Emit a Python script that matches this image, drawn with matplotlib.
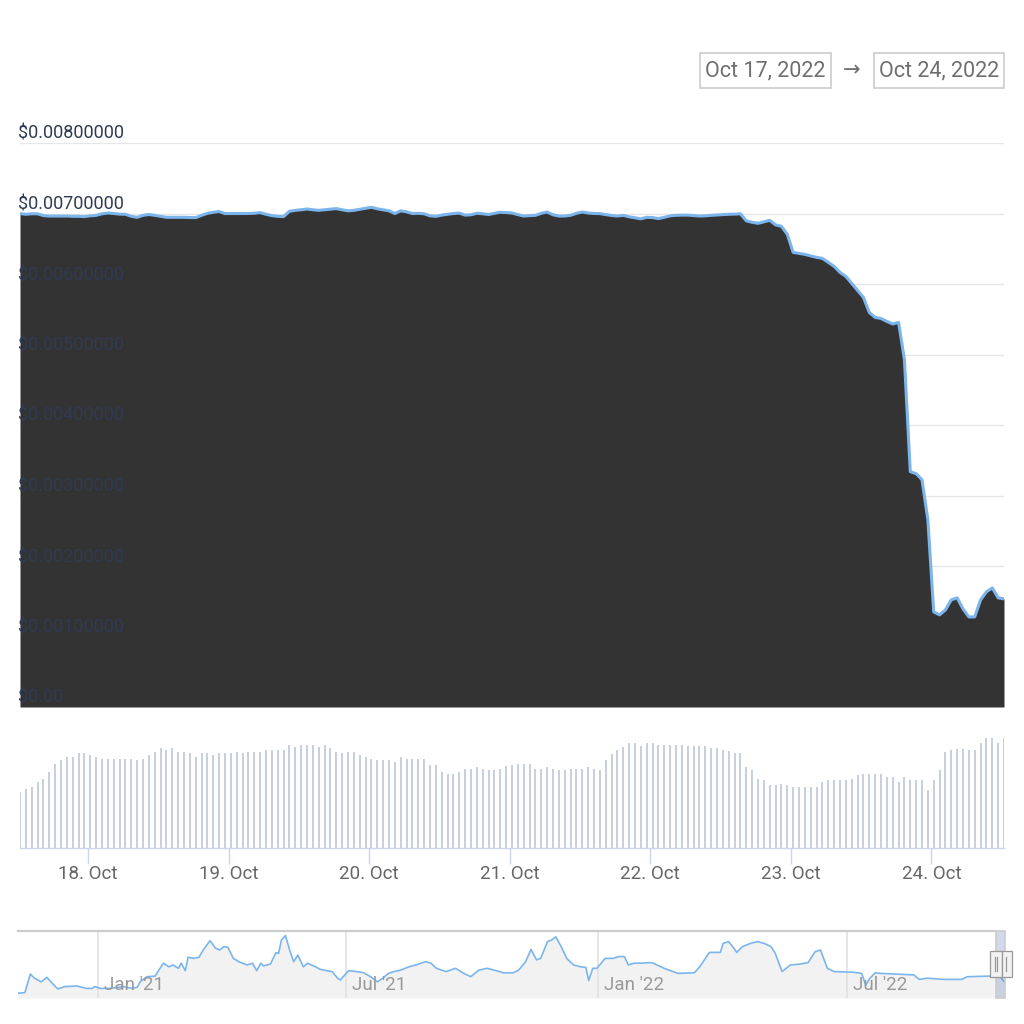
import numpy as np
import pandas as pd
import matplotlib
matplotlib.use('Agg')
import matplotlib.pyplot as plt
import matplotlib.dates as mdates
import matplotlib.transforms as mtrans
from matplotlib.patches import Rectangle

plt.rcParams['font.family'] = ['Roboto', 'DejaVu Sans']

#%% data
# hourly price, in thousandths of a dollar (Oct 17 12:24 -> Oct 24 12:24)
price_k = [6.999, 6.989, 6.996, 6.996, 6.970, 6.964, 6.964, 6.964, 6.964, 6.960,
           6.960, 6.956, 6.967, 6.974, 6.996, 7.007, 7.000, 6.991, 6.989, 6.960,
           6.946, 6.974, 6.986, 6.974, 6.960, 6.946, 6.946, 6.946, 6.946, 6.943,
           6.942, 6.974, 7.003, 7.017, 7.028, 6.999, 6.999, 6.999, 6.999, 7.000,
           7.003, 7.013, 6.989, 6.970, 6.960, 6.956, 7.031, 7.045, 7.053, 7.064,
           7.053, 7.045, 7.053, 7.060, 7.070, 7.053, 7.038, 7.045, 7.060, 7.074,
           7.088, 7.067, 7.053, 7.038, 6.999, 7.038, 7.024, 6.999, 7.003, 6.996,
           6.967, 6.960, 6.977, 6.989, 6.999, 7.006, 6.977, 6.982, 7.003, 6.996,
           6.986, 7.003, 7.017, 7.013, 7.007, 6.984, 6.964, 6.970, 6.974, 7.003,
           7.021, 6.982, 6.964, 6.964, 6.974, 7.003, 7.021, 7.007, 7.000, 6.999,
           6.984, 6.972, 6.964, 6.974, 6.953, 6.939, 6.925, 6.946, 6.942, 6.928,
           6.946, 6.967, 6.974, 6.977, 6.977, 6.970, 6.964, 6.967, 6.974, 6.979,
           6.984, 6.989, 6.991, 6.996, 6.896, 6.875, 6.861, 6.882, 6.903, 6.839,
           6.818, 6.705, 6.449, 6.435, 6.420, 6.399, 6.378, 6.364, 6.307, 6.250,
           6.165, 6.108, 6.009, 5.909, 5.810, 5.597, 5.526, 5.511, 5.469, 5.433,
           5.455, 4.929, 3.338, 3.310, 3.224, 2.656, 1.349, 1.307, 1.378, 1.520,
           1.548, 1.392, 1.278, 1.278, 1.520, 1.634, 1.690, 1.548, 1.534]

# hourly volume (relative bar heights)
volume = [167, 177, 182, 197, 207, 228, 253, 263, 273, 273, 285, 284, 279, 273, 268,
          268, 268, 268, 268, 268, 263, 268, 279, 288, 299, 294, 299, 289, 289, 284,
          274, 284, 284, 279, 284, 284, 284, 289, 284, 289, 289, 289, 294, 294, 294,
          294, 309, 304, 309, 309, 309, 304, 309, 299, 289, 284, 289, 289, 279, 274,
          268, 263, 263, 263, 258, 273, 268, 268, 268, 268, 248, 248, 228, 223, 223,
          228, 238, 238, 243, 238, 233, 233, 238, 245, 248, 253, 253, 253, 238, 238,
          243, 238, 233, 233, 238, 238, 238, 243, 238, 233, 263, 283, 293, 303, 315,
          315, 305, 315, 315, 310, 310, 310, 310, 310, 305, 305, 305, 305, 300, 300,
          295, 290, 285, 285, 243, 233, 208, 203, 188, 188, 193, 188, 183, 183, 183,
          183, 183, 198, 203, 203, 203, 203, 208, 218, 223, 223, 223, 223, 213, 213,
          198, 213, 203, 203, 203, 173, 203, 233, 288, 293, 298, 298, 293, 293, 315,
          330, 330, 315, 330]

start = pd.Timestamp('2022-10-17 12:24')
times = pd.date_range(start, periods=len(price_k), freq='h')
price = np.array(price_k) * 1e-3

yticks = [0, 0.001, 0.002, 0.003, 0.004, 0.005, 0.006, 0.007, 0.008]
ylabels = ['$0.00', '$0.00100000', '$0.00200000', '$0.00300000', '$0.00400000',
           '$0.00500000', '$0.00600000', '$0.00700000', '$0.00800000']

# navigator (full history), days since 2020-11-04
nav_days = [0, 5, 9, 12, 17, 21, 25, 29, 34, 43, 50, 54, 56, 60, 67, 77, 83, 87, 89, 94,
            100, 102, 106, 110, 113, 117, 119, 122, 124, 128, 132, 135, 140, 144, 147, 150,
            153, 157, 161, 167, 171, 174, 177, 179, 184, 188, 190, 192, 195, 198, 201, 204,
            208, 211, 217, 220, 225, 229, 233, 235, 237, 241, 247, 252, 257, 262, 266, 270,
            274, 279, 285, 290, 297, 301, 305, 312, 319, 325, 330, 336, 342, 347, 354, 361,
            365, 370, 374, 378, 381, 386, 389, 392, 396, 400, 405, 410, 414, 416, 419, 422,
            428, 434, 438, 442, 445, 449, 454, 462, 471, 481, 493, 497, 504, 512, 514, 518,
            521, 524, 528, 534, 539, 544, 549, 552, 557, 563, 570, 576, 581, 585, 590, 595,
            609, 615, 618, 621, 625, 629, 638, 653, 657, 663, 675, 688, 692, 709, 716, 719]
nav_vals = [1.6, 1.8, 8.0, 6.6, 5.4, 6.9, 4.9, 3.0, 3.8, 4.0, 3.2, 3.2, 3.8, 3.2, 3.2, 3.8, 3.2, 3.6, 5.4, 7.1,
            7.3, 8.8, 11.6, 10.4, 11.0, 9.9, 11.6, 9.1, 13.6, 13.2, 13.6, 16.0, 19.1, 16.6, 16.0, 17.1,
            16.9, 13.2, 12.1, 11.0, 11.6, 9.1, 11.6, 10.7, 11.3, 15.1, 14.9, 19.3, 20.8, 16.0, 12.1, 14.3,
            10.4, 11.6, 10.4, 9.6, 9.1, 8.8, 6.6, 6.0, 7.1, 9.1, 8.8, 8.4, 7.1, 5.4, 6.6, 8.2,
            8.8, 9.3, 10.4, 11.0, 12.1, 11.6, 9.9, 8.8, 9.9, 8.2, 7.1, 9.3, 9.9, 9.3, 8.4, 8.4,
            9.3, 12.1, 16.2, 12.7, 13.2, 18.8, 19.3, 20.4, 17.1, 13.2, 11.0, 10.4, 10.2, 5.8, 9.9, 9.9,
            13.2, 13.2, 13.8, 13.8, 11.0, 11.6, 11.6, 11.8, 9.9, 8.2, 8.4, 10.4, 15.2, 15.2, 18.2, 18.8,
            17.1, 15.2, 17.1, 18.2, 18.8, 18.2, 17.1, 14.9, 8.8, 11.0, 11.3, 11.8, 15.4, 16.0, 9.9, 8.8,
            8.6, 8.2, 4.3, 6.6, 8.4, 8.2, 8.0, 7.7, 6.2, 6.6, 6.2, 6.2, 7.1, 7.3, 7.0, 5.4]
nav_ticks = ['2021-01-01', '2021-07-01', '2022-01-01', '2022-07-01']
nav_labels = ["Jan '21", "Jul '21", "Jan '22", "Jul '22"]

#%% figure
W = H = 1024
fig = plt.figure(figsize=(10.24, 10.24), dpi=100)


def px_axes(x0, y0, x1, y1):
    return fig.add_axes([x0 / W, 1 - y1 / H, (x1 - x0) / W, (y1 - y0) / H])


# main price panel
ax = px_axes(20, 143, 1004, 707)
for v in yticks:
    ax.axhline(v, color='#e6e6e6', lw=1, zorder=1)
ax.fill_between(times, price, 0, color='#333333', lw=0, zorder=2)
ax.plot(times, price, color='#7cb5ec', lw=2.2, zorder=3, solid_joinstyle='round')
ax.set_xlim(times[0], times[-1])
ax.set_ylim(0, 0.008)
ax.axis('off')
ytrans = mtrans.offset_copy(ax.get_yaxis_transform(), fig=fig, y=4, units='dots')
for v, lab in zip(yticks, ylabels):
    ax.text(-0.002, v, lab, transform=ytrans, ha='left', va='baseline',
            fontsize=13, color='#2f3b52', zorder=4, clip_on=False)

# volume panel
vax = px_axes(20, 730, 1004, 848)
vax.bar(times, volume, width=2 / 140.6, color='#c8d0dd', align='center')
vax.set_xlim(times[0], times[-1])
vax.set_ylim(0, 354)
for s in ['top', 'right', 'left']:
    vax.spines[s].set_visible(False)
vax.spines['bottom'].set_color('#ccd6eb')
vax.spines['bottom'].set_linewidth(1)
vax.set_yticks([])
vax.xaxis.set_major_locator(mdates.DayLocator())
vax.xaxis.set_major_formatter(mdates.DateFormatter('%d. %b'))
vax.tick_params(axis='x', length=11.5, width=1, color='#ccd6eb',
                labelcolor='#666666', labelsize=13.5, pad=0.8)

# navigator
nax = px_axes(18, 931, 1005, 998)
nav_dates = pd.Timestamp('2020-11-04') + pd.to_timedelta(nav_days, unit='D')
nax.fill_between(nav_dates, nav_vals, 0, color='#f2f2f2', lw=0, zorder=1)
nax.plot(nav_dates, nav_vals, color='#7cb5ec', lw=1.2, zorder=3)
nax.set_xlim(pd.Timestamp('2020-11-04'), pd.Timestamp('2022-10-24 12:00'))
nax.set_ylim(0, 22.33)
nax.axis('off')
ntrans = mtrans.offset_copy(nax.get_xaxis_transform(), fig=fig, x=6, units='dots')
for d, lab in zip(nav_ticks, nav_labels):
    nax.axvline(pd.Timestamp(d), color='#e0e0e0', lw=1.2, zorder=2)
    nax.text(pd.Timestamp(d), 0.2, lab, transform=ntrans, ha='left', va='center',
             fontsize=13.5, color='#999999', zorder=4)

# navigator outline, selection and handles
fig.add_artist(plt.Line2D([18 / W, 996 / W], [1 - 931 / H, 1 - 931 / H],
                          color='#cccccc', lw=1.6))
fig.add_artist(Rectangle((996 / W, 1 - 998 / H), 9 / W, 67 / H, transform=fig.transFigure,
                         fc=(0.4, 0.52, 0.76, 0.3), ec='#cccccc', lw=1.2))
for hx0, hx1, grips in [(989.5, 1001.5, [994.5, 997.3]), (1001.5, 1011.5, [1006])]:
    fig.add_artist(Rectangle((hx0 / W, 1 - 977 / H), (hx1 - hx0) / W, 26 / H,
                             transform=fig.transFigure, fc='#f2f2f2', ec='#999999', lw=0.9))
    for g in grips:
        fig.add_artist(plt.Line2D([g / W, g / W], [1 - 971 / H, 1 - 957 / H],
                                  color='#999999', lw=0.9))

# date range boxes
for bx0, bx1, txt in [(700, 831, 'Oct 17, 2022'), (874, 1004, 'Oct 24, 2022')]:
    fig.add_artist(Rectangle((bx0 / W, 1 - 88 / H), (bx1 - bx0) / W, 35 / H,
                             transform=fig.transFigure, fill=False, ec='#cccccc', lw=1.2))
    fig.text((bx0 + bx1) / 2 / W, 1 - 70.5 / H, txt, ha='center', va='center',
             fontsize=15.5, color='#6e6e6e')
fig.text(852 / W, 1 - 71 / H, '\u2192', ha='center', va='center', fontsize=15, color='#6e6e6e')

fig.savefig('out.png', dpi=100)
